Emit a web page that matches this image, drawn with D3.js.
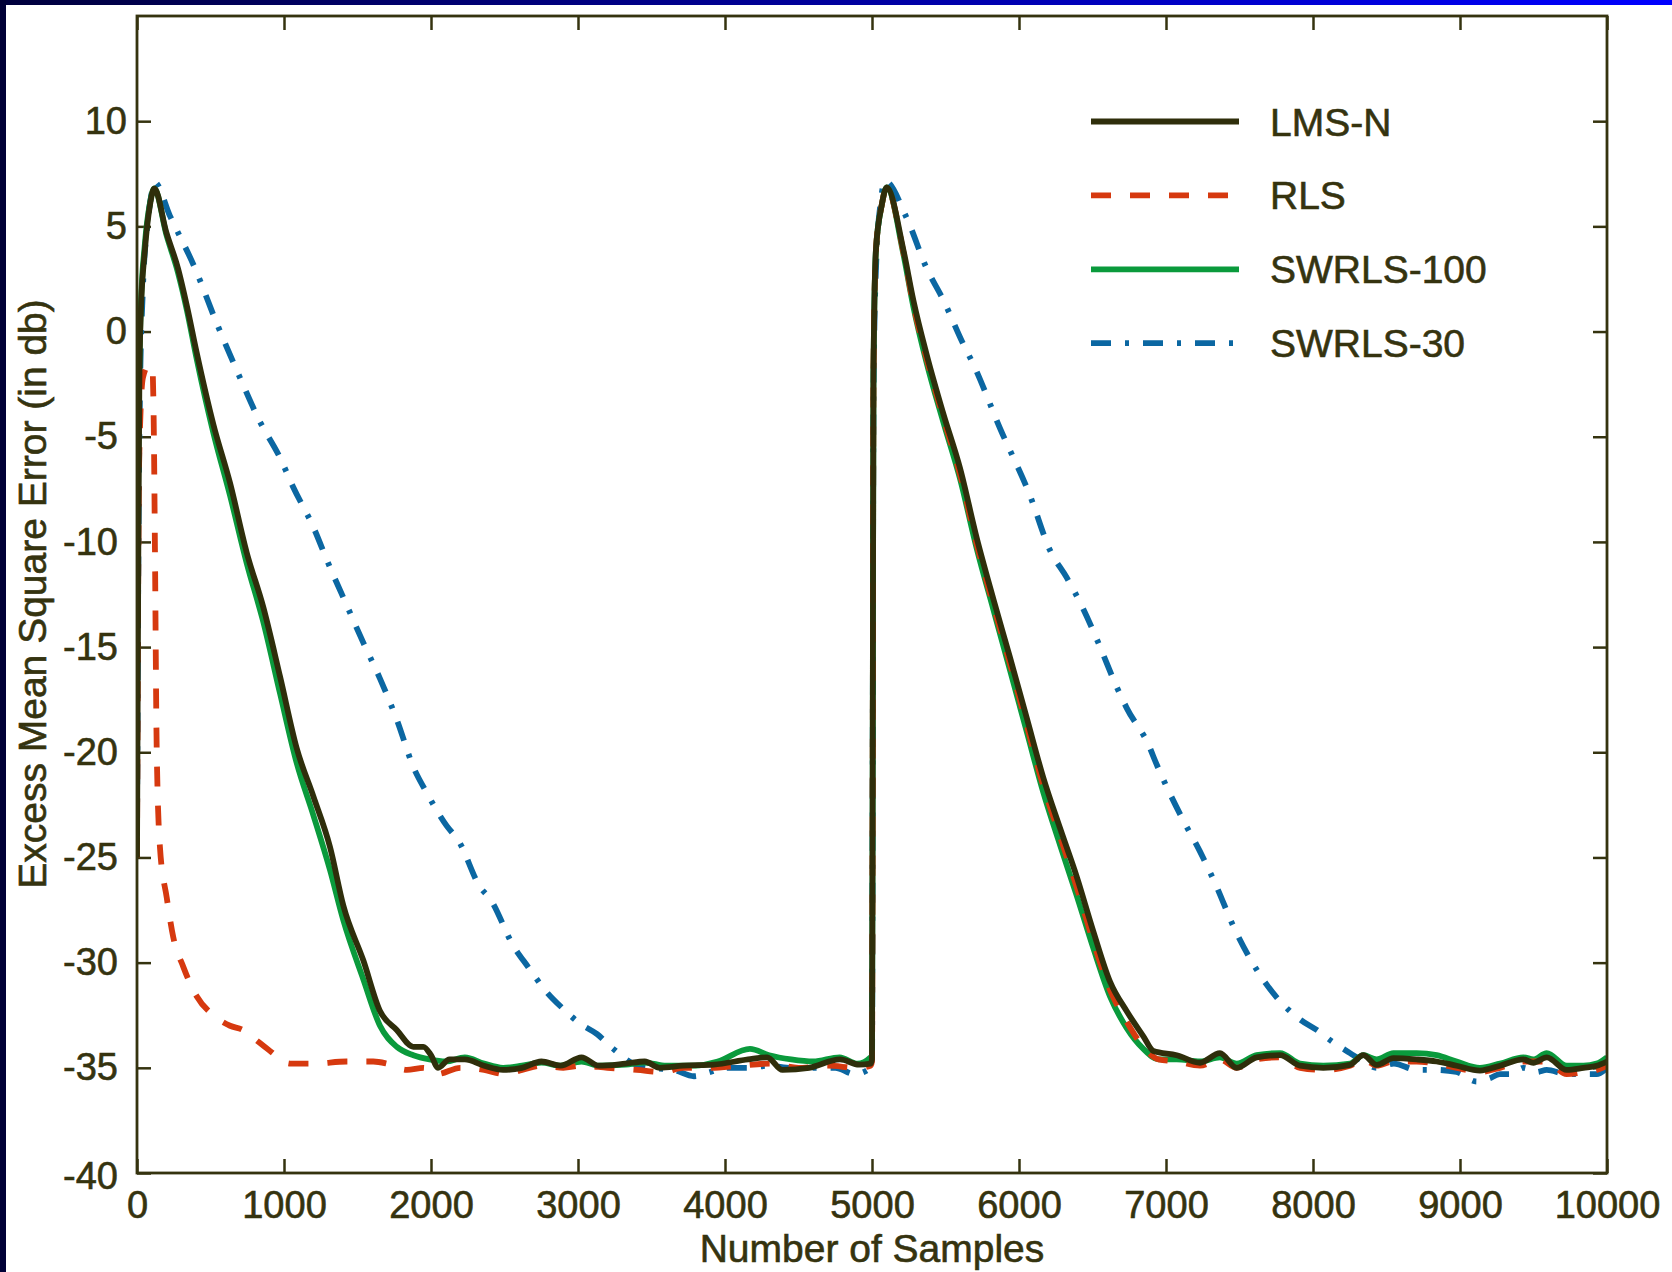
<!DOCTYPE html>
<html>
<head>
<meta charset="utf-8">
<script src="https://cdn.jsdelivr.net/npm/d3@7"></script>
<style>
  body { margin: 0; background: #fff; }
  svg { display: block; }
  text { font-family: "Liberation Sans", Arial, Helvetica, sans-serif; fill: #35330f; stroke: #35330f; stroke-width: 0.6px; }
</style>
</head>
<body>
<div class="chartDiv"></div>
<script>
// values (sample index, excess MSE in dB)
var lmsN = [
  [0,-25],[8,-12],[16,-2.4],[25,0.7],[54,3.9],[88,6.0],[118,6.8],[200,4.7],[279,3.0],[340,1.2],
  [406,-1.0],[519,-4.4],[633,-7.2],[746,-10.5],[859,-13.1],[973,-16.4],[1086,-19.8],[1200,-22.1],
  [1313,-24.5],[1404,-27.3],[1540,-29.9],[1653,-32.3],[1767,-33.2],[1880,-34.0],[1948,-34.0],
  [2000,-34.4],[2048,-35.0],[2126,-34.6],[2230,-34.6],[2361,-34.9],[2490,-35.1],[2619,-35.0],
  [2751,-34.7],[2881,-34.9],[3024,-34.5],[3141,-34.9],[3323,-34.8],[3454,-34.7],[3558,-35.0],
  [3714,-34.9],[3922,-34.85],[4157,-34.6],[4286,-34.5],[4391,-35.1],[4572,-35.0],[4782,-34.6],
  [4912,-34.85],[4990,-34.8],
  [5000,-34.6],[5005,-20],[5010,-2],[5027,3.9],[5066,6.0],[5100,6.85],[5213,3.9],[5281,1.5],
  [5372,-1.1],[5485,-3.9],[5599,-6.5],[5712,-9.8],[5825,-12.7],[5939,-15.5],[6052,-18.35],
  [6165,-21.2],[6279,-23.6],[6392,-25.9],[6505,-28.5],[6619,-30.9],[6732,-32.3],[6846,-33.5],
  [6914,-34.2],[7073,-34.4],[7231,-34.76],[7367,-34.3],[7481,-35.0],[7617,-34.5],[7776,-34.4],
  [7912,-34.9],[8070,-35.0],[8252,-34.86],[8342,-34.4],[8433,-34.86],[8547,-34.54],[8705,-34.6],
  [8841,-34.7],[8977,-34.9],[9136,-35.13],[9272,-34.9],[9431,-34.6],[9499,-34.76],[9590,-34.5],
  [9726,-35.1],[9840,-35.0],[9930,-34.9],[10000,-34.7]
];

var rls = [
  [0,-25],[15,-6],[40,-2.2],[80,-1.6],[105,-1.8],[115,-5],[122,-10.3],[134,-19.8],[156,-24.5],
  [202,-26.9],[247,-28.8],[315,-30.2],[406,-31.6],[519,-32.5],[633,-33.0],[720,-33.2],[814,-33.7],
  [905,-34.2],[1041,-34.8],[1200,-34.8],[1426,-34.7],[1607,-34.7],[1700,-34.8],[1835,-35.1],
  [1950,-35.0],[2039,-35.3],[2200,-35.0],[2361,-35.1],[2500,-35.3],[2620,-35.1],[2751,-34.9],
  [2900,-35.0],[3024,-34.9],[3200,-35.0],[3400,-35.1],[3580,-35.2],[3714,-35.0],[3900,-35.0],
  [4100,-34.9],[4300,-34.8],[4500,-35.0],[4700,-34.9],[4900,-35.0],[4990,-34.9],
  [5000,-34.7],[5005,-20],[5010,-2],[5027,3.9],[5066,6.0],[5100,6.85],[5213,3.8],[5281,1.3],
  [5372,-1.3],[5485,-4.1],[5599,-6.8],[5712,-10.1],[5825,-13.0],[5939,-15.8],[6052,-18.7],
  [6165,-21.6],[6279,-24.0],[6392,-26.4],[6505,-29.0],[6619,-31.3],[6732,-32.8],[6846,-34.0],
  [6950,-34.6],[7073,-34.7],[7231,-34.9],[7367,-34.6],[7481,-35.0],[7617,-34.6],[7776,-34.5],
  [7912,-35.0],[8070,-35.1],[8252,-34.9],[8342,-34.6],[8433,-34.9],[8547,-34.7],[8705,-34.7],
  [8841,-34.8],[8977,-35.0],[9136,-35.2],[9272,-35.0],[9431,-34.7],[9590,-34.7],[9726,-35.3],
  [9840,-35.2],[9930,-35.1],[10000,-34.9]
];

var swrls100 = [
  [0,-15],[10,-5],[25,1],[54,4.2],[88,6.1],[118,6.8],[200,4.6],[279,2.8],[340,1.0],[406,-1.3],
  [519,-4.8],[633,-7.8],[746,-11.0],[859,-13.8],[973,-17.2],[1086,-20.5],[1200,-23.0],[1313,-25.6],
  [1404,-28.0],[1540,-30.8],[1653,-33.0],[1767,-34.0],[1880,-34.4],[1990,-34.6],[2100,-34.7],
  [2230,-34.5],[2361,-34.8],[2490,-35.0],[2619,-34.9],[2751,-34.75],[2881,-34.9],[3024,-34.7],
  [3141,-34.9],[3323,-34.85],[3454,-34.75],[3600,-34.9],[3800,-34.9],[3950,-34.7],[4170,-34.1],
  [4300,-34.4],[4450,-34.6],[4600,-34.7],[4780,-34.5],[4900,-34.8],[4990,-34.5],
  [5000,-34.4],[5005,-20],[5010,-2],[5027,3.9],[5066,6.0],[5100,6.85],[5213,3.7],[5281,1.2],
  [5372,-1.5],[5485,-4.3],[5599,-7.0],[5712,-10.3],[5825,-13.2],[5939,-16.1],[6052,-19.0],
  [6165,-21.9],[6279,-24.4],[6392,-26.8],[6505,-29.3],[6619,-31.6],[6732,-33.1],[6846,-34.1],
  [6950,-34.6],[7073,-34.6],[7231,-34.7],[7367,-34.5],[7481,-34.8],[7617,-34.4],[7776,-34.3],
  [7912,-34.8],[8070,-34.9],[8252,-34.8],[8342,-34.4],[8433,-34.6],[8547,-34.3],[8705,-34.3],
  [8841,-34.4],[8977,-34.7],[9136,-35.0],[9272,-34.8],[9431,-34.5],[9499,-34.6],[9590,-34.3],
  [9726,-34.9],[9840,-34.9],[9930,-34.8],[10000,-34.5]
];

var swrls30 = [
  [0,-24],[10,-10],[20,-3],[40,2],[70,5],[100,6.6],[120,7.1],[224,5.5],[395,3.0],[542,0.4],
  [701,-2.2],[830,-4.2],[973,-6.0],[1063,-7.4],[1200,-9.3],[1300,-11.0],[1426,-13.0],[1540,-14.8],
  [1653,-16.5],[1770,-18.5],[1880,-20.7],[1969,-21.9],[2107,-23.5],[2187,-24.2],[2333,-26.4],
  [2405,-27.0],[2560,-29.2],[2660,-30.2],[2787,-31.4],[2900,-32.2],[3014,-32.9],[3130,-33.4],
  [3240,-34.1],[3376,-34.8],[3500,-35.0],[3650,-35.1],[3789,-35.4],[3900,-35.2],[4000,-35.0],
  [4150,-35.0],[4300,-34.9],[4450,-35.0],[4600,-35.0],[4750,-35.0],[4880,-35.3],[4990,-35.0],
  [5000,-34.8],[5005,-20],[5010,-3],[5030,3.5],[5060,6.2],[5088,7.16],[5236,5.4],[5372,3.0],
  [5485,1.5],[5621,-0.6],[5689,-1.55],[5871,-4.6],[6075,-7.8],[6211,-10.4],[6325,-11.7],
  [6438,-13.2],[6540,-14.8],[6665,-16.9],[6733,-17.9],[6891,-19.8],[6914,-20.2],[7107,-23.1],
  [7230,-24.7],[7345,-26.4],[7460,-28.3],[7571,-29.8],[7680,-31.0],[7798,-32.0],[7912,-32.7],
  [8025,-33.2],[8140,-33.8],[8252,-34.3],[8342,-34.7],[8433,-35.0],[8550,-34.8],[8705,-35.1],
  [8841,-35.1],[8977,-35.2],[9113,-35.65],[9200,-35.5],[9272,-35.3],[9350,-35.3],[9431,-35.0],
  [9520,-35.2],[9590,-35.1],[9726,-35.3],[9840,-35.3],[9930,-35.3],[10000,-35.0]
];

var xTicks = [0, 1000, 2000, 3000, 4000, 5000, 6000, 7000, 8000, 9000, 10000];
var yTicks = [10, 5, 0, -5, -10, -15, -20, -25, -30, -35, -40];
var legendNames = ["LMS-N", "RLS", "SWRLS-100", "SWRLS-30"];

(function(){
	var W = 1672, H = 1272;
	var margin = { top: 16, right: 65, bottom: 99, left: 137 },
	    width = W - margin.left - margin.right,
	    height = H - margin.top - margin.bottom;
	var ink = "#35330f";

	var svg = d3.select('.chartDiv').append('svg')
	    .attr('width', W)
	    .attr('height', H);

	// navy frame of the slide
	var grad = svg.append("defs").append("linearGradient")
		.attr("id", "topBar").attr("x1", "0%").attr("x2", "100%");
	grad.append("stop").attr("offset", "0%").attr("stop-color", "#00003c");
	grad.append("stop").attr("offset", "100%").attr("stop-color", "#0000ff");
	svg.append("rect").attr("x", 0).attr("y", 0).attr("width", W).attr("height", 5)
		.attr("fill", "url(#topBar)");
	svg.append("rect").attr("x", 0).attr("y", 0).attr("width", 6).attr("height", H)
		.attr("fill", "#000036");

	var g = svg.append('g')
	    .attr('transform', 'translate(' + margin.left + ',' + margin.top + ')');

	var x = d3.scaleLinear().domain([0, 10000]).range([0, width]);
	var y = d3.scaleLinear().domain([-40, 15]).range([height, 0]);

	g.append("clipPath").attr("id", "plotClip")
		.append("rect").attr("width", width).attr("height", height);

	// axes, ticks pointing inward on all four sides
	var styleAxis = function(sel) {
		sel.select(".domain").remove();
		sel.selectAll(".tick line").attr("stroke", ink).attr("stroke-width", 2.5);
		sel.selectAll("text").style("font-size", "38px").attr("fill", ink);
	};

	g.append("g")
	    .attr("transform", "translate(0," + height + ")")
	    .call(d3.axisBottom(x).tickValues(xTicks).tickFormat(d3.format("d"))
	    	.tickSizeInner(-14).tickSizeOuter(0).tickPadding(18))
	    .call(styleAxis);

	g.append("g")
	    .call(d3.axisTop(x).tickValues(xTicks).tickFormat("")
	    	.tickSizeInner(-14).tickSizeOuter(0))
	    .call(styleAxis);

	var yAxis = g.append("g")
	    .call(d3.axisLeft(y).tickValues(yTicks).tickFormat(d3.format("d"))
	    	.tickSizeInner(-14).tickSizeOuter(0).tickPadding(10))
	    .call(styleAxis);
	// plain hyphen for the minus sign, negative labels sit a bit further left
	yAxis.selectAll(".tick text")
		.attr("x", function(d) { return d < 0 ? -19 : -10; })
		.attr("dy", function(d) { return d == -40 ? "0.4em" : "0.32em"; })
		.text(function(d) { return d < 0 ? "-" + Math.abs(d) : d; });

	g.append("g")
	    .attr("transform", "translate(" + width + ",0)")
	    .call(d3.axisRight(y).tickValues(yTicks).tickFormat("")
	    	.tickSizeInner(-14).tickSizeOuter(0))
	    .call(styleAxis);

	// the curves
	var line = d3.line()
		.curve(d3.curveMonotoneX)
		.x(function(d) { return x(d[0]); })
		.y(function(d) { return y(d[1]); });

	var series = [
		{ name: "SWRLS-30", data: swrls30, color: "#0b67a2", dash: "20,14,4,14" },
		{ name: "SWRLS-100", data: swrls100, color: "#0a9a3c", dash: null },
		{ name: "RLS", data: rls, color: "#d6390f", dash: "20,19" },
		{ name: "LMS-N", data: lmsN, color: "#2f2e0b", dash: null }
	];

	var curves = g.append("g").attr("clip-path", "url(#plotClip)");
	curves.selectAll(".curve")
		.data(series)
		.enter().append("path")
		  .attr("class", "curve")
		  .attr("d", function(d) { return line(d.data); })
		  .attr("fill", "none")
		  .attr("stroke", function(d) { return d.color; })
		  .attr("stroke-width", 5.8)
		  .attr("stroke-linejoin", "round")
		  .attr("stroke-dasharray", function(d) { return d.dash; });

	// box
	g.append("rect")
		.attr("width", width).attr("height", height)
		.attr("fill", "none").attr("stroke", ink).attr("stroke-width", 2.8);

	// legend, same order as the reference
	var legendStyle = {};
	series.forEach(function(s) { legendStyle[s.name] = s; });
	var legend = svg.append("g").attr("class", "legend");
	var row = legend.selectAll(".row")
		.data(legendNames)
		.enter().append("g")
		  .attr("class", "row")
		  .attr("transform", function(d, i) { return "translate(1091," + (121.5 + i * 73.9) + ")"; });
	row.append("line")
		.attr("x1", 0).attr("x2", 148)
		.attr("stroke", function(d) { return legendStyle[d].color; })
		.attr("stroke-width", 5.8)
		.attr("stroke-dasharray", function(d) { return legendStyle[d].dash; });
	row.append("text")
		.attr("x", 179).attr("dy", "0.36em")
		.style("font-size", "39px")
		.text(function(d) { return d; });

	// axis titles
	svg.append("text")
		.attr("x", margin.left + x(5000)).attr("y", 1262)
		.attr("text-anchor", "middle")
		.style("font-size", "39px")
		.text("Number of Samples");

	svg.append("text")
		.attr("transform", "translate(46,594) rotate(-90)")
		.attr("text-anchor", "middle")
		.style("font-size", "39px")
		.text("Excess Mean Square Error (in db)");
})();
</script>
</body>
</html>
